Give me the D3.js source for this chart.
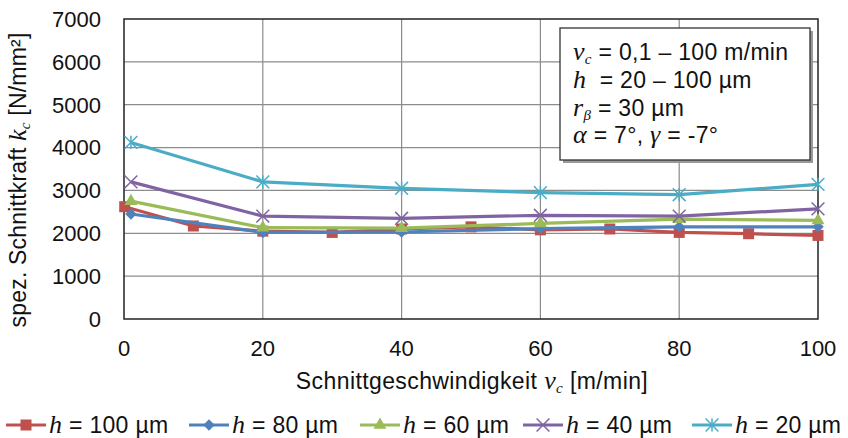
<!DOCTYPE html>
<html>
<head>
<meta charset="utf-8">
<script src="https://cdn.jsdelivr.net/npm/d3@7"></script>
<style>
  body { margin: 0; background: #fff; }
  text { font-family: "Liberation Sans", Arial, sans-serif; }
  .it { font-family: "Liberation Serif", "Times New Roman", serif; font-style: italic; }
</style>
</head>
<body>
<div id="graph"></div>
<script>
const width = 848;
const height = 438;
const margin = { top: 19, right: 30, bottom: 119, left: 124 };
const fs = 22;
const fs2 = 23;

// data
const xTicks = [0, 20, 40, 60, 80, 100];
const yTicks = [0, 1000, 2000, 3000, 4000, 5000, 6000, 7000];

const xRed = [0.1, 10, 20, 30, 40, 50, 60, 70, 80, 90, 100];
const yRed = [2620, 2170, 2050, 2020, 2100, 2150, 2080, 2100, 2020, 1990, 1950];
const xOther = [1, 20, 40, 60, 80, 100];
const yBlue = [2450, 2020, 2030, 2110, 2150, 2150];
const yGreen = [2750, 2130, 2120, 2230, 2330, 2300];
const yPurple = [3200, 2400, 2350, 2420, 2400, 2570];
const yCyan = [4120, 3200, 3050, 2950, 2900, 3140];

const labels = ["100", "80", "60", "40", "20"];
const colors = ["#c0504d", "#4f81bd", "#9bbb59", "#8064a2", "#4bacc6"];
const symbols = ["square", "diamond", "triangle", "x", "star"];

const series = [
  { xs: xRed, ys: yRed },
  { xs: xOther, ys: yBlue },
  { xs: xOther, ys: yGreen },
  { xs: xOther, ys: yPurple },
  { xs: xOther, ys: yCyan }
];

const svg = d3.select("#graph").append("svg")
  .attr("width", width).attr("height", height);

const innerW = 818 - margin.left;
const innerH = 319 - margin.top;

const x = d3.scaleLinear().domain([0, 100]).range([margin.left, margin.left + innerW]);
const y = d3.scaleLinear().domain([0, 7000]).range([margin.top + innerH, margin.top]);

// grid
const grid = svg.append("g");
grid.selectAll(".gx").data(xTicks.slice(1, -1)).enter().append("line")
  .attr("x1", d => x(d)).attr("x2", d => x(d))
  .attr("y1", y(0)).attr("y2", y(7000))
  .attr("stroke", "#8c8c8c").attr("stroke-width", 1.2);
grid.selectAll(".gy").data(yTicks.slice(1, -1)).enter().append("line")
  .attr("x1", x(0)).attr("x2", x(100))
  .attr("y1", d => y(d)).attr("y2", d => y(d))
  .attr("stroke", "#8c8c8c").attr("stroke-width", 1.2);

// frame
svg.append("rect")
  .attr("x", x(0)).attr("y", y(7000))
  .attr("width", x(100) - x(0)).attr("height", y(0) - y(7000))
  .attr("fill", "none").attr("stroke", "#222").attr("stroke-width", 1.5);

// tick labels
svg.append("g").selectAll("text").data(yTicks).enter().append("text")
  .attr("x", 101).attr("y", d => y(d)).attr("dy", "0.36em")
  .attr("text-anchor", "end").attr("font-size", fs).attr("fill", "#111")
  .text(d => d);
svg.append("g").selectAll("text").data(xTicks).enter().append("text")
  .attr("x", d => x(d)).attr("y", 348).attr("dy", "0.36em")
  .attr("text-anchor", "middle").attr("font-size", fs).attr("fill", "#111")
  .text(d => d);

// axis titles
const xt = svg.append("text").attr("x", 472).attr("y", 389)
  .attr("text-anchor", "middle").attr("font-size", fs2).attr("fill", "#111")
  .attr("letter-spacing", 0.4);
xt.append("tspan").text("Schnittgeschwindigkeit ");
xt.append("tspan").attr("class", "it").attr("font-size", fs2 + 3).text("v");
xt.append("tspan").attr("class", "it").attr("font-size", 15).attr("dy", 4).text("c");
xt.append("tspan").attr("dy", -4).text(" [m/min]");

const yt = svg.append("text")
  .attr("transform", "translate(26,180) rotate(-90)")
  .attr("text-anchor", "middle").attr("font-size", fs2).attr("fill", "#111")
  .attr("letter-spacing", 0.2);
yt.append("tspan").text("spez. Schnittkraft ");
yt.append("tspan").attr("class", "it").attr("font-size", fs2 + 3).text("k");
yt.append("tspan").attr("class", "it").attr("font-size", 15).attr("dy", 4).text("c");
yt.append("tspan").attr("dy", -4).text(" [N/mm²]");

// markers
function marker(g, sym, color, size) {
  const s = size;
  if (sym === "square") {
    g.append("rect").attr("x", -s / 2).attr("y", -s / 2).attr("width", s).attr("height", s).attr("fill", color);
  } else if (sym === "diamond") {
    g.append("path").attr("d", d3.symbol(d3.symbolDiamond2, s * s * 0.7)()).attr("fill", color);
  } else if (sym === "triangle") {
    g.append("path").attr("d", d3.symbol(d3.symbolTriangle, s * s * 0.6)()).attr("fill", color);
  } else if (sym === "x") {
    g.append("path").attr("d", d3.symbol(d3.symbolTimes, s * s * 0.9)()).attr("fill", "none")
      .attr("stroke", color).attr("stroke-width", 1.5);
  } else {
    g.append("path").attr("d", d3.symbol(d3.symbolTimes, s * s * 0.9)()).attr("fill", "none")
      .attr("stroke", color).attr("stroke-width", 1.5);
    g.append("line").attr("x1", 0).attr("x2", 0).attr("y1", -s * 0.6).attr("y2", s * 0.6)
      .attr("stroke", color).attr("stroke-width", 1.5);
  }
}

const line = d3.line().x(d => x(d[0])).y(d => y(d[1]));
series.forEach((s, i) => {
  const pts = s.xs.map((v, j) => [v, s.ys[j]]);
  svg.append("path").datum(pts).attr("d", line)
    .attr("fill", "none").attr("stroke", colors[i]).attr("stroke-width", 3.2);
  pts.forEach(p => {
    const g = svg.append("g").attr("transform", "translate(" + x(p[0]) + "," + y(p[1]) + ")");
    marker(g, symbols[i], colors[i], 11);
  });
});

// parameter box
const bx = 560, by = 28, bw = 250, bh = 132;
svg.append("rect").attr("x", bx + 3).attr("y", by + 3).attr("width", bw).attr("height", bh)
  .attr("fill", "#999");
svg.append("rect").attr("x", bx).attr("y", by).attr("width", bw).attr("height", bh)
  .attr("fill", "#fff").attr("stroke", "#333").attr("stroke-width", 1.3);

const lines = [
  [["v", "it", fs2 + 3], ["c", "sub", 15], [" = 0,1 – 100 m/min", "", fs2]],
  [["h", "it", fs2 + 3], ["  = 20 – 100 µm", "", fs2]],
  [["r", "it", fs2 + 3], ["β", "sub", 15], [" = 30 µm", "", fs2]],
  [["α", "it", fs2 + 3], [" = 7°, ", "", fs2], ["γ", "it", fs2 + 3], [" = -7°", "", fs2]]
];
const lineY = [60, 88, 116, 143];
lines.forEach((parts, i) => {
  const t = svg.append("text").attr("x", 573).attr("y", lineY[i]).attr("fill", "#111")
    .attr("xml:space", "preserve").attr("letter-spacing", 0.3);
  let sub = false;
  parts.forEach(p => {
    const ts = t.append("tspan").attr("font-size", p[2]).text(p[0]);
    if (p[1] === "it" || p[1] === "sub") ts.attr("class", "it");
    if (p[1] === "sub") { ts.attr("dy", 4); sub = true; }
    else if (sub) { ts.attr("dy", -4); sub = false; }
  });
});

// legend
const legX = [6, 189, 360, 523, 692];
labels.forEach((lab, i) => {
  const g = svg.append("g").attr("transform", "translate(" + legX[i] + ",425)");
  g.append("line").attr("x1", 0).attr("x2", 40).attr("stroke", colors[i]).attr("stroke-width", 3.2);
  marker(g.append("g").attr("transform", "translate(20,0)"), symbols[i], colors[i], 11);
  const t = g.append("text").attr("x", 43).attr("dy", "0.36em").attr("font-size", fs2)
    .attr("fill", "#111").attr("letter-spacing", 0.3);
  t.append("tspan").attr("class", "it").attr("font-size", fs2 + 3).text("h");
  t.append("tspan").text(" = " + lab + " µm");
});
</script>
</body>
</html>
